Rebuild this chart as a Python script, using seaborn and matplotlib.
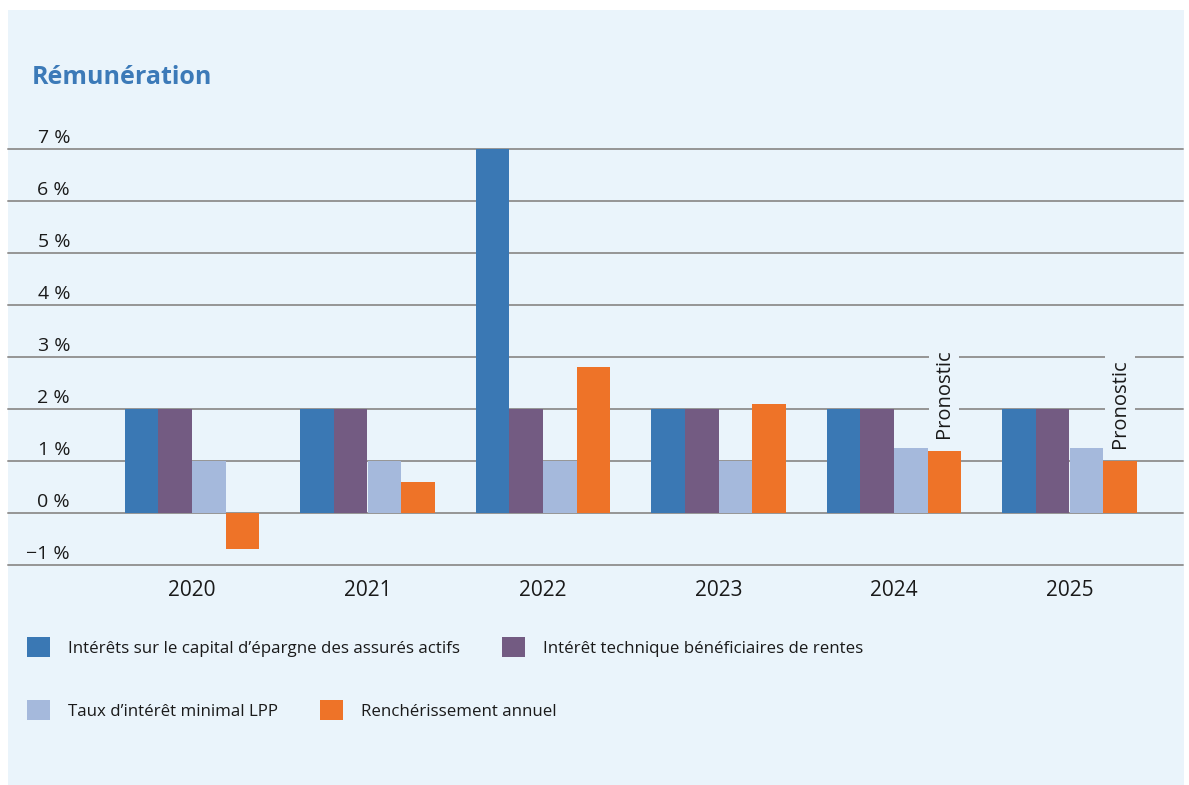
import matplotlib
matplotlib.use("Agg")
import matplotlib.pyplot as plt
import matplotlib.transforms as mtransforms
from matplotlib.patches import Rectangle, Patch
import seaborn as sns
import pandas as pd

years = ["2020", "2021", "2022", "2023", "2024", "2025"]
series = [
    "Intérêts sur le capital d’épargne des assurés actifs",
    "Intérêt technique bénéficiaires de rentes",
    "Taux d’intérêt minimal LPP",
    "Renchérissement annuel",
]
interets_epargne = [2.0, 2.0, 7.0, 2.0, 2.0, 2.0]
interet_technique = [2.0, 2.0, 2.0, 2.0, 2.0, 2.0]
taux_minimal_lpp = [1.0, 1.0, 1.0, 1.0, 1.25, 1.25]
rencherissement = [-0.7, 0.6, 2.8, 2.1, 1.2, 1.0]
forecast_years = ["2024", "2025"]
yticks = [-1, 0, 1, 2, 3, 4, 5, 6, 7]
ytick_labels = ["\u22121 %", "0 %", "1 %", "2 %", "3 %", "4 %", "5 %", "6 %", "7 %"]
title = "Rémunération"
forecast_label = "Pronostic"

colors = ["#3A78B4", "#735B82", "#A5B9DC", "#EE7328"]
bg = "#EAF4FB"

sns.set_theme(style="white")
plt.rcParams["font.family"] = ["Open Sans", "DejaVu Sans"]

rows = []
for s, vals in zip(series, [interets_epargne, interet_technique, taux_minimal_lpp, rencherissement]):
    for y, v in zip(years, vals):
        rows.append({"year": y, "series": s, "value": v})
df = pd.DataFrame(rows)

W, H = 1189, 785
fig = plt.figure(figsize=(W / 100, H / 100), dpi=100)
fig.patch.set_facecolor("white")
fig.add_artist(Rectangle((8 / W, 0), (1184 - 8) / W, (H - 10) / H,
                         transform=fig.transFigure, facecolor=bg, edgecolor="none", zorder=-10))

ax = fig.add_axes([8 / W, 1 - 565 / H, (1183 - 8) / W, (565 - 149) / H])
ax.set_facecolor(bg)

sns.barplot(data=df, x="year", y="value", hue="series", hue_order=series,
            palette=colors, width=0.765, gap=0, saturation=1, ax=ax,
            legend=False, zorder=3, linewidth=0, errorbar=None)

unit = 175.5
ax.set_xlim(-(192 - 8) / unit, (1183 - 192) / unit)
ax.set_ylim(-1.0, 7.0)
ax.set_yticks(yticks)
ax.set_yticklabels(ytick_labels, fontsize=14, color="#1a1a1a")
ax.yaxis.grid(True, color="#959595", linewidth=1.4, zorder=0)
ax.set_axisbelow(True)
for gl in ax.get_ygridlines():
    gl.set_clip_on(False)
ax.tick_params(axis="y", length=0, pad=0)
ax.tick_params(axis="x", length=0, pad=11)
ax.set_xticklabels(years, fontsize=15, color="#1a1a1a")
ax.set_xlabel("")
ax.set_ylabel("")
for sp in ax.spines.values():
    sp.set_visible(False)

off = mtransforms.ScaledTranslation(62 / 100, 13 / 100, fig.dpi_scale_trans)
for lab in ax.get_yticklabels():
    lab.set_transform(lab.get_transform() + off)
    lab.set_horizontalalignment("right")

# Forecast labels above the inflation bars
orange = ax.containers[3]
for yr, bar in zip(years, orange.patches):
    if yr in forecast_years:
        cx = bar.get_x() + bar.get_width() / 2
        top = bar.get_y() + bar.get_height()
        ax.annotate(forecast_label, (cx, top), xytext=(0, 9), textcoords="offset points",
                    rotation=90, ha="center", va="bottom", fontsize=14.5, color="#1a1a1a",
                    bbox=dict(boxstyle="square,pad=0.25", facecolor=bg, edgecolor="none"),
                    zorder=5, annotation_clip=False)

fig.text(32 / W, 1 - 77 / H, title, fontsize=18, fontweight="bold", color="#3C7AB8",
         ha="left", va="center")

hs = [Patch(facecolor=c, edgecolor="none") for c in colors]
leg_kw = dict(frameon=False, fontsize=12.2, handlelength=1.36, handleheight=1.36,
              handletextpad=1.05, columnspacing=2.5, borderaxespad=0, borderpad=0,
              labelcolor="#1a1a1a")
leg1 = fig.legend(hs[:2], series[:2], ncol=2, loc="center left",
                  bbox_to_anchor=(27 / W, 1 - 647 / H), **leg_kw)
leg2 = fig.legend(hs[2:], series[2:], ncol=2, loc="center left",
                  bbox_to_anchor=(27 / W, 1 - 710 / H), **leg_kw)

fig.savefig("out.png", dpi=100, facecolor="white")
